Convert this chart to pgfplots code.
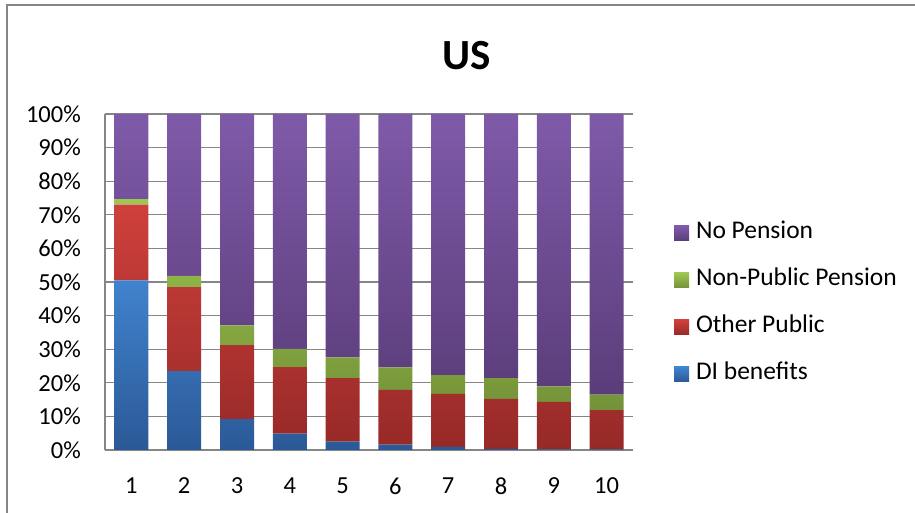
\documentclass[border=0pt]{standalone}
\usepackage{fontspec}
\setmainfont{Carlito}
\usepackage{pgfplots}
\pgfplotsset{compat=1.18}
\usepackage{pgfplotstable}

% Gradient fills (light at top, dark at bottom)
\definecolor{blueT}{RGB}{64,131,206}
\definecolor{blueB}{RGB}{43,89,150}
\definecolor{redT}{RGB}{207,64,60}
\definecolor{redB}{RGB}{150,41,39}
\definecolor{greenT}{RGB}{158,198,80}
\definecolor{greenB}{RGB}{116,146,56}
\definecolor{purpT}{RGB}{127,90,169}
\definecolor{purpB}{RGB}{91,61,122}
\definecolor{gridgray}{RGB}{134,134,134}

% Shares by decile (percent)
\pgfplotstableread{
x  di    other  nonpub  none
1  50.5  22.5   1.7     25.3
2  23.5  25.0   3.3     48.2
3  9.2   22.0   5.9     62.9
4  4.9   19.8   5.4     69.9
5  2.5   18.9   6.2     72.4
6  1.6   16.3   6.7     75.4
7  0.9   15.8   5.6     77.7
8  0.3   14.9   6.2     78.6
9  0.2   14.1   4.6     81.1
10 0.2   11.7   4.6     83.5
}\datatable

\begin{document}
\begin{tikzpicture}[x=1pt,y=1pt]
\useasboundingbox (0,0) rectangle (915,513);
% chart frame
\draw[gridgray, line width=1.5pt] (7,0) -- (7,508) -- (915,508);
% title
\node[font=\bfseries\fontsize{43}{47}\selectfont] at (467,457) {US};
\begin{axis}[
  at={(105pt,63pt)}, anchor=origin,
  scale only axis, width=528pt, height=336pt,
  ybar stacked, bar width=34pt,
  xmin=0.5, xmax=10.5, ymin=0, ymax=100,
  xtick={1,...,10}, ytick={0,10,...,100},
  /pgf/number format/assume math mode=true,
  yticklabel={\pgfmathprintnumber{\tick}\%},
  tick label style={font=\fontsize{24.5}{28}\selectfont, inner sep=0pt},
  yticklabel style={anchor=east, xshift=-24pt},
  xticklabel style={anchor=center, yshift=-36pt},
  major tick length=0pt,
  axis lines=left, axis line style={-, gridgray, line width=1.3pt},
  ymajorgrids, grid style={gridgray, line width=1.3pt},
  reverse legend,
  legend image code/.code={\path[#1, draw=none] (0pt,-7.5pt) rectangle (15pt,7.5pt); \path (22pt,0pt);},
  legend cell align=left,
  legend style={at={(1.0777,0.6756)}, anchor=north west, draw=none, fill=none,
    inner sep=0pt, outer sep=0pt, row sep=26pt,
    font=\fontsize{25.5}{29}\selectfont,
    nodes={inner sep=0pt, text height=16pt, text depth=5pt}},
]
\addplot[draw=none, shading=axis, top color=blueT, bottom color=blueB] table[x=x, y=di] {\datatable};
\addlegendentry{DI benefits}
\addplot[draw=none, shading=axis, top color=redT, bottom color=redB] table[x=x, y=other] {\datatable};
\addlegendentry{Other Public}
\addplot[draw=none, shading=axis, top color=greenT, bottom color=greenB] table[x=x, y=nonpub] {\datatable};
\addlegendentry{Non-Public Pension}
\addplot[draw=none, shading=axis, top color=purpT, bottom color=purpB] table[x=x, y=none] {\datatable};
\addlegendentry{No Pension}
\end{axis}
\end{tikzpicture}
\end{document}
